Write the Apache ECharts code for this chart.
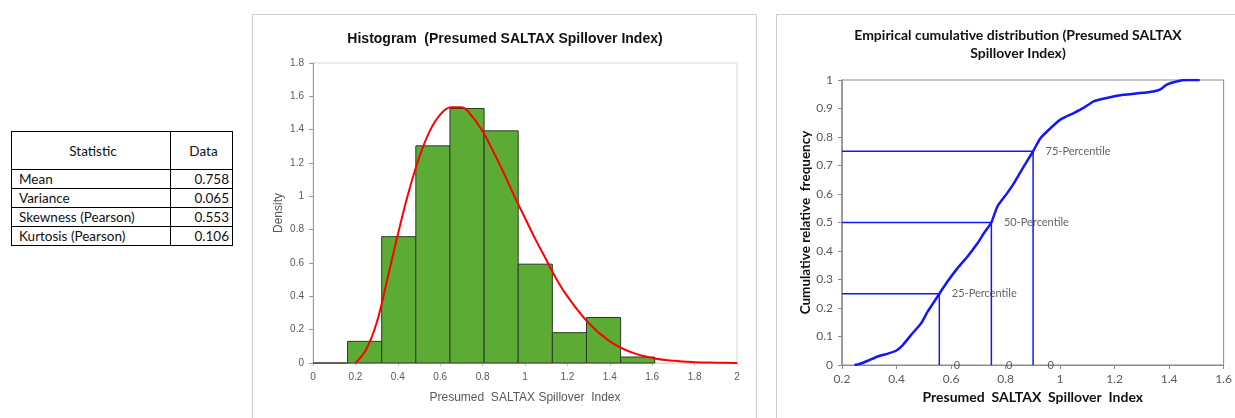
<!DOCTYPE html>
<html>
<head>
<meta charset="utf-8">
<script src="https://cdn.jsdelivr.net/npm/echarts@6/dist/echarts.min.js"></script>
<style>
  html, body { margin: 0; padding: 0; background: #fff; }
  #chart { position: absolute; left: 0; top: 0; width: 1235px; height: 418px; }
  #stats { position: absolute; left: 11px; top: 131px; border-collapse: collapse;
           font-family: Lato, "Open Sans", sans-serif; font-size: 13.5px; color: #111; background: #fff; }
  #stats td, #stats th { border: 1px solid #000; padding: 0 3px 0 7px; font-weight: normal; }
  #stats th { height: 37px; text-align: center; }
  #stats td { height: 18px; line-height: 18px; }
  #stats td.v { text-align: right; }
</style>
</head>
<body>
<div id="chart"></div>
<table id="stats"></table>
<script>
// ---- Summary table ----
const statHeader = ["Statistic", "Data"];
const statNames = ["Mean", "Variance", "Skewness (Pearson)", "Kurtosis (Pearson)"];
const statValues = ["0.758", "0.065", "0.553", "0.106"];

// ---- Histogram ----
const histEdges = [0, 0.163, 0.324, 0.485, 0.646, 0.807, 0.968, 1.129, 1.290, 1.451, 1.612];
const histDensity = [0, 0.13, 0.758, 1.303, 1.527, 1.393, 0.593, 0.182, 0.273, 0.036];
// fitted density curve
const curveX = [0.2, 0.25, 0.3, 0.35, 0.4, 0.45, 0.5, 0.55, 0.6, 0.65, 0.7, 0.75, 0.8, 0.85, 0.9, 0.95, 1.0, 1.05, 1.1, 1.15, 1.2, 1.3, 1.4, 1.5, 1.6, 1.7, 1.8, 1.9, 2.0];
const curveY = [0, 0.08, 0.24, 0.5, 0.77, 1.02, 1.23, 1.39, 1.49, 1.535, 1.535, 1.48, 1.39, 1.27, 1.14, 1.0, 0.87, 0.74, 0.62, 0.50, 0.40, 0.24, 0.13, 0.065, 0.03, 0.013, 0.005, 0.002, 0];

// ---- Empirical CDF ----
const ecdfX = [0.246, 0.265, 0.295, 0.331, 0.368, 0.398, 0.423, 0.453, 0.49, 0.514, 0.538, 0.557, 0.587, 0.624, 0.66, 0.697, 0.721, 0.748, 0.77, 0.806, 0.831, 0.867, 0.901, 0.928, 0.965, 1.001, 1.05, 1.086, 1.123, 1.171, 1.232, 1.293, 1.342, 1.366, 1.391, 1.427, 1.464, 1.512];
const ecdfY = [0, 0.004, 0.015, 0.03, 0.04, 0.05, 0.07, 0.105, 0.146, 0.187, 0.222, 0.25, 0.293, 0.34, 0.38, 0.427, 0.463, 0.5, 0.556, 0.603, 0.638, 0.697, 0.75, 0.796, 0.831, 0.861, 0.884, 0.902, 0.925, 0.937, 0.948, 0.954, 0.96, 0.966, 0.984, 0.995, 1.0, 1.0];
const pctLevels = [0.25, 0.5, 0.75];
const pctValues = [0.557, 0.748, 0.901];
const pctNames = ["25-Percentile", "50-Percentile", "75-Percentile"];
const pctZeroLabels = ["0", "0", "0"];

const histXTicks = { min: 0, max: 2, interval: 0.2 };
const histYTicks = { min: 0, max: 1.8, interval: 0.2 };
const ecdfXTicks = { min: 0.2, max: 1.6, interval: 0.2 };
const ecdfYTicks = { min: 0, max: 1, interval: 0.1 };

// build table
(function () {
  const t = document.getElementById('stats');
  let html = '<tr><th style="width:148px">' + statHeader[0] + '</th><th style="width:51px">' + statHeader[1] + '</th></tr>';
  statNames.forEach((n, i) => { html += '<tr><td>' + n + '</td><td class="v">' + statValues[i] + '</td></tr>'; });
  t.innerHTML = html;
})();

const chart = echarts.init(document.getElementById('chart'), null, { renderer: 'canvas' });
const fmt = v => String(Math.round(v * 10) / 10);

const histTickLabel = { color: '#595959', fontFamily: 'Liberation Sans, Arial, sans-serif', fontSize: 10 };
const ecdfTickLabel = { color: '#595959', fontFamily: 'Lato, sans-serif', fontSize: 12 };

const option = {
  animation: false,
  backgroundColor: '#fff',
  graphic: [
    { type: 'rect', shape: { x: 252.5, y: 14.5, width: 504, height: 420 }, style: { fill: 'none', stroke: '#cfcfcf', lineWidth: 1 }, z: -10 },
    { type: 'rect', shape: { x: 776.5, y: 14.5, width: 480, height: 420 }, style: { fill: 'none', stroke: '#cfcfcf', lineWidth: 1 }, z: -10 }
  ],
  title: [
    { text: 'Histogram  (Presumed SALTAX Spillover Index)', left: 500, top: 27, textAlign: 'center',
      textStyle: { fontFamily: 'Liberation Sans, Arial, sans-serif', fontWeight: 'bold', fontSize: 14, color: '#111' } },
    { text: 'Empirical cumulative distribution (Presumed SALTAX\nSpillover Index)', left: 1013, top: 21, textAlign: 'center',
      textStyle: { fontFamily: 'Lato, sans-serif', fontWeight: 'bold', fontSize: 14, lineHeight: 18, color: '#111' } }
  ],
  grid: [
    { left: 313, top: 63, width: 424, height: 300, show: true, borderColor: '#d9d9d9', borderWidth: 1, backgroundColor: 'transparent' },
    { left: 842, top: 80, width: 384, height: 285, show: true, borderColor: '#8c8c8c', borderWidth: 1, backgroundColor: 'transparent' }
  ],
  xAxis: [
    { gridIndex: 0, type: 'value', min: histXTicks.min, max: histXTicks.max, interval: histXTicks.interval,
      name: 'Presumed  SALTAX Spillover  Index', nameLocation: 'middle', nameGap: 29,
      nameTextStyle: { color: '#595959', fontFamily: 'Liberation Sans, Arial, sans-serif', fontSize: 12 },
      axisLine: { show: true, lineStyle: { color: '#d9d9d9' } },
      axisTick: { show: true, length: 3, lineStyle: { color: '#bfbfbf' } },
      axisLabel: Object.assign({ margin: 9, formatter: fmt }, histTickLabel),
      splitLine: { show: false } },
    { gridIndex: 1, type: 'value', min: ecdfXTicks.min, max: ecdfXTicks.max, interval: ecdfXTicks.interval,
      name: 'Presumed  SALTAX  Spillover  Index', nameLocation: 'middle', nameGap: 25,
      nameTextStyle: { color: '#111', fontFamily: 'Lato, sans-serif', fontSize: 14, fontWeight: 'bold' },
      axisLine: { show: true, lineStyle: { color: '#8c8c8c' } },
      axisTick: { show: true, length: 4, lineStyle: { color: '#8c8c8c' } },
      axisLabel: Object.assign({ margin: 8, formatter: fmt }, ecdfTickLabel),
      splitLine: { show: false } }
  ],
  yAxis: [
    { gridIndex: 0, type: 'value', min: histYTicks.min, max: histYTicks.max, interval: histYTicks.interval,
      name: 'Density', nameLocation: 'middle', nameGap: 28,
      nameTextStyle: { color: '#595959', fontFamily: 'Liberation Sans, Arial, sans-serif', fontSize: 12 },
      axisLine: { show: true, lineStyle: { color: '#999' } },
      axisTick: { show: true, length: 4, lineStyle: { color: '#999' } },
      axisLabel: Object.assign({ margin: 9, formatter: fmt }, histTickLabel),
      splitLine: { show: false } },
    { gridIndex: 1, type: 'value', min: ecdfYTicks.min, max: ecdfYTicks.max, interval: ecdfYTicks.interval,
      name: 'Cumulative relative  frequency', nameLocation: 'middle', nameGap: 29,
      nameTextStyle: { color: '#111', fontFamily: 'Lato, sans-serif', fontSize: 13.5, fontWeight: 'bold' },
      axisLine: { show: true, lineStyle: { color: '#8c8c8c', width: 1.5 } },
      axisTick: { show: true, length: 4, lineStyle: { color: '#8c8c8c' } },
      axisLabel: Object.assign({ margin: 9, formatter: fmt }, ecdfTickLabel),
      splitLine: { show: false } }
  ],
  series: [
    {
      type: 'custom', xAxisIndex: 0, yAxisIndex: 0,
      data: histDensity.map((d, i) => [histEdges[i], histEdges[i + 1], d]),
      encode: { x: [0, 1], y: 2 },
      renderItem: function (params, api) {
        const p0 = api.coord([api.value(0), 0]);
        const p1 = api.coord([api.value(1), api.value(2)]);
        return {
          type: 'rect',
          shape: { x: p0[0], y: p1[1], width: p1[0] - p0[0], height: p0[1] - p1[1] },
          style: { fill: '#5cab34', stroke: '#2e3b27', lineWidth: 1 }
        };
      },
      z: 2
    },
    {
      type: 'line', xAxisIndex: 0, yAxisIndex: 0, smooth: 0.4, showSymbol: false, symbol: 'none',
      data: curveX.map((x, i) => [x, curveY[i]]),
      lineStyle: { color: '#ff0000', width: 2 }, z: 3
    },
    {
      type: 'line', xAxisIndex: 1, yAxisIndex: 1, showSymbol: false, symbol: 'none', smooth: 0.2,
      data: ecdfX.map((x, i) => [x, ecdfY[i]]),
      lineStyle: { color: '#1414ff', width: 2.5 }, z: 3
    }
  ].concat(pctLevels.map((p, i) => ({
      type: 'line', xAxisIndex: 1, yAxisIndex: 1, showSymbol: false, symbol: 'none',
      data: [[ecdfXTicks.min, p], [pctValues[i], p], [pctValues[i], 0]],
      lineStyle: { color: '#1414ff', width: 1.5 }, z: 3
  }))).concat([
    {
      type: 'scatter', xAxisIndex: 1, yAxisIndex: 1, symbolSize: 1, itemStyle: { color: 'rgba(0,0,0,0)' },
      data: pctLevels.map((p, i) => ({ value: [pctValues[i], p], label: { formatter: pctNames[i] } })),
      label: { show: true, position: 'right', distance: 12, color: '#3a3a3a', fontFamily: 'Lato, sans-serif', fontSize: 11 },
      z: 4
    },
    {
      type: 'scatter', xAxisIndex: 1, yAxisIndex: 1, symbolSize: 1, itemStyle: { color: 'rgba(0,0,0,0)' },
      data: pctValues.map((x, i) => ({ value: [x, 0], label: { formatter: pctZeroLabels[i] } })),
      label: { show: true, position: 'right', distance: 14, color: '#3a3a3a', fontFamily: 'Lato, sans-serif', fontSize: 11 },
      z: 4
    }
  ])
};
chart.setOption(option);
</script>
</body>
</html>
